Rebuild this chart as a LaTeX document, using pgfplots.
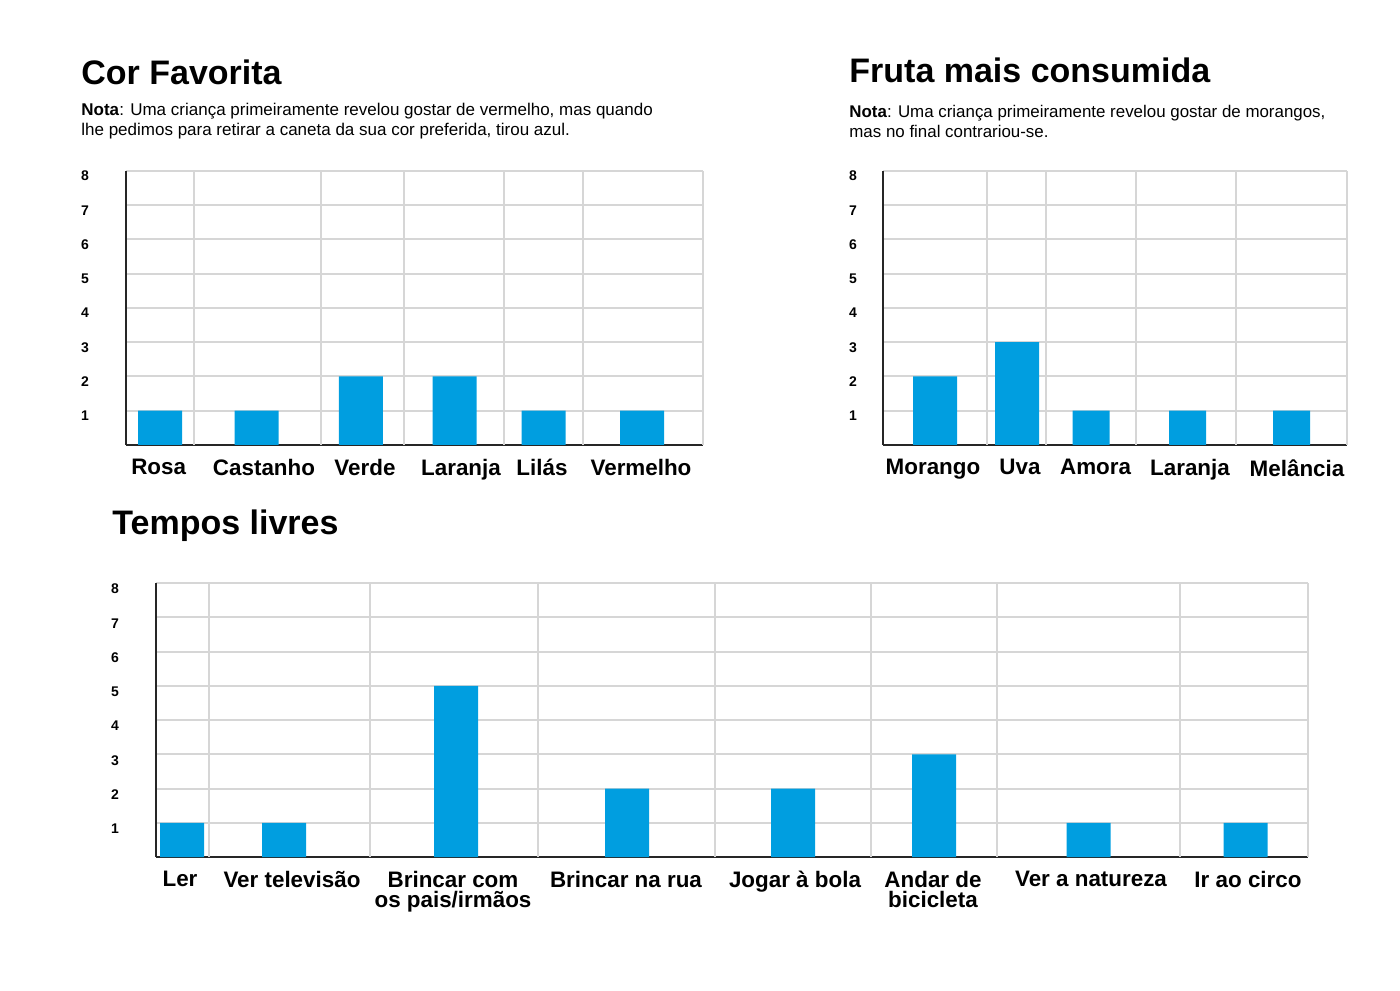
\documentclass[border=0pt]{standalone}
\usepackage{fontspec}
\setmainfont{Liberation Sans}
\usepackage{pgfplots}
\pgfplotsset{compat=1.18}
\definecolor{barblue}{RGB}{0,158,224}
\definecolor{gridgray}{RGB}{214,214,214}
\pgfplotsset{
  mybars/.style={
    scale only axis,
    anchor=south west,
    height=137pt,
    ymin=0, ymax=8,
    ytick={1,2,3,4,5,6,7,8},
    ymajorgrids,
    grid style={gridgray, line width=1pt},
    axis x line=bottom, axis y line=left,
    axis line style={-, line width=1.1pt, black!85},
    major tick length=0pt,
    /pgf/number format/assume math mode=true,
    yticklabel style={font=\bfseries\fontsize{7}{8}\selectfont, anchor=center, xshift=-20.5pt, yshift=-2.5pt},
    xticklabel style={font=\bfseries\fontsize{11.2}{10}\selectfont, align=center, anchor=north, inner sep=0pt, yshift=-7pt},
    extra x tick style={grid=major, major tick length=0pt},
    bar shift=0pt,
  },
  bluebar/.style={ybar, fill=barblue, draw=none},
}
\begin{document}
\begin{tikzpicture}
\path[use as bounding box] (0,0) rectangle (700pt,495pt);

% Titles and notes
\node[anchor=base west, inner sep=0pt, font=\bfseries\fontsize{17}{20}\selectfont] at (40.5pt,452.5pt) {Cor Favorita};
\node[anchor=base west, inner sep=0pt, font=\fontsize{8.5}{10}\selectfont] at (40.5pt,437pt) {\textbf{Nota}: Uma criança primeiramente revelou gostar de vermelho, mas quando};
\node[anchor=base west, inner sep=0pt, font=\fontsize{8.5}{10}\selectfont] at (40.5pt,427pt) {lhe pedimos para retirar a caneta da sua cor preferida, tirou azul.};

\node[anchor=base west, inner sep=0pt, font=\bfseries\fontsize{17}{20}\selectfont] at (424.5pt,453.5pt) {Fruta mais consumida};
\node[anchor=base west, inner sep=0pt, font=\fontsize{8.45}{10}\selectfont] at (424.5pt,436pt) {\textbf{Nota}: Uma criança primeiramente revelou gostar de morangos,};
\node[anchor=base west, inner sep=0pt, font=\fontsize{8.45}{10}\selectfont] at (424.5pt,426pt) {mas no final contrariou-se.};

\node[anchor=base west, inner sep=0pt, font=\bfseries\fontsize{17}{20}\selectfont] at (56pt,227.5pt) {Tempos livres};

% Chart 1: Cor Favorita
\begin{axis}[mybars, at={(63pt,272.5pt)}, width=288.5pt,
  xmin=126, xmax=703,
  xtick={158.7,264,365,461,542,641},
  xticklabels={Rosa,Castanho,Verde,Laranja,Lilás,Vermelho},
  extra x ticks={194,321,404,504,583,703},
  extra x tick labels={},
]
\addplot[bluebar, bar width=22pt] coordinates {(160,1) (256.5,1) (360.75,2) (454.5,2) (543.5,1) (642,1)};
\end{axis}

% Chart 2: Fruta mais consumida
\begin{axis}[mybars, at={(441.5pt,272.5pt)}, width=232pt,
  xmin=883, xmax=1347,
  yticklabel style={xshift=5.5pt},
  xtick={933,1020,1095.6,1190,1297},
  xticklabels={Morango,Uva,Amora,Laranja,Melância},
  extra x ticks={987,1045.5,1135.5,1235.5,1347},
  extra x tick labels={},
]
\addplot[bluebar, bar width=22pt] coordinates {(935,2) (1017,3)};
\addplot[bluebar, bar width=18.5pt] coordinates {(1091,1) (1187.5,1) (1291.5,1)};
\end{axis}

% Chart 3: Tempos livres
\begin{axis}[mybars, at={(78pt,66.5pt)}, width=576pt,
  xmin=156, xmax=1308,
  yticklabel style={yshift=-0.5pt},
  xtick={180,292,453,626,795,933,1091,1248},
  xticklabels={Ler,Ver televisão,{Brincar com\\os pais/irmãos},Brincar na rua,Jogar à bola,{Andar de\\bicicleta},Ver a natureza,Ir ao circo},
  extra x ticks={208.5,370,538,715,871,997,1180,1308},
  extra x tick labels={},
]
\addplot[bluebar, bar width=22pt] coordinates {(182,1) (284,1) (456,5) (627,2) (793,2) (934,3) (1088.5,1) (1245.5,1)};
\end{axis}
\end{tikzpicture}
\end{document}
